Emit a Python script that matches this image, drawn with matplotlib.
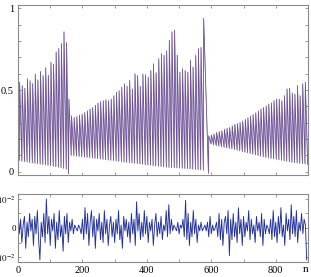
import numpy as np
import matplotlib
matplotlib.use("Agg")
from matplotlib import pyplot as plt
from matplotlib.ticker import MultipleLocator, FixedLocator

plt.rcParams['font.family'] = ['Liberation Serif', 'DejaVu Serif']
plt.rcParams['mathtext.fontset'] = 'stix'

# spike train, three segments: (first spike n, spacing), peaks, troughs before each peak
seg1_start, seg1_step = 5, 8.1
seg1_peaks = [0.548, 0.527, 0.510, 0.568, 0.556, 0.540, 0.597, 0.562, 0.613, 0.588,
              0.636, 0.590, 0.670, 0.658, 0.733, 0.753, 0.784, 0.856, 0.790]
seg1_troughs = [0.070, 0.065, 0.062, 0.060, 0.057, 0.055, 0.052, 0.050, 0.047, 0.045,
                0.042, 0.040, 0.037, 0.034, 0.031, 0.028, 0.025, 0.021, 0.017]

seg2_start, seg2_step = 158, 8.2
seg2_peaks = [0.444, 0.341, 0.331, 0.337, 0.346, 0.352, 0.362, 0.372, 0.383, 0.393,
              0.407, 0.420, 0.428, 0.434, 0.440, 0.434, 0.444, 0.465, 0.486, 0.496,
              0.517, 0.537, 0.523, 0.558, 0.506, 0.599, 0.588, 0.523, 0.597, 0.593,
              0.578, 0.619, 0.660, 0.605, 0.691, 0.722, 0.712, 0.740, 0.804,
              0.856, 0.866, 0.712, 0.609, 0.630, 0.619, 0.609, 0.681, 0.640, 0.712,
              0.753, 0.760, 0.938]
seg2_troughs = [-0.012, 0.100, 0.098, 0.096, 0.094, 0.092, 0.090, 0.088, 0.086, 0.084,
                0.082, 0.080, 0.078, 0.076, 0.074, 0.072, 0.070, 0.068, 0.066, 0.064,
                0.062, 0.060, 0.058, 0.056, 0.054, 0.052, 0.050, 0.048, 0.046, 0.044,
                0.042, 0.040, 0.038, 0.036, 0.034, 0.032, 0.030, 0.028, 0.027, 0.026,
                0.025, 0.024, 0.023, 0.022, 0.020, 0.019, 0.018, 0.016, 0.015, 0.013,
                0.012, 0.010]

seg3_start, seg3_step = 592, 8.1
seg3_peaks = [0.220, 0.225, 0.230, 0.240, 0.245, 0.250, 0.260, 0.265, 0.270, 0.280,
              0.290, 0.295, 0.300, 0.310, 0.320, 0.330, 0.340, 0.350, 0.360, 0.372,
              0.383, 0.393, 0.403, 0.414, 0.420, 0.434, 0.444, 0.444, 0.434, 0.465,
              0.506, 0.510, 0.481, 0.475, 0.527, 0.465, 0.537, 0.547]
seg3_troughs = [-0.010, 0.170, 0.165, 0.160, 0.157, 0.153, 0.150, 0.146, 0.143, 0.140,
                0.136, 0.132, 0.128, 0.124, 0.120, 0.116, 0.112, 0.108, 0.104, 0.100,
                0.096, 0.092, 0.088, 0.085, 0.082, 0.079, 0.076, 0.073, 0.070, 0.067,
                0.064, 0.061, 0.058, 0.056, 0.054, 0.052, 0.050, 0.048]
end_n, end_value = 899, 0.045

# difference between the two curves, sampled every 4 steps, in units of 1e-2
err_step = 4
err = [0.6, -0.2, 0.3, -0.5, 0.1, 0.4, -0.7, 0.2, -0.3, 0.5, -0.1, 0.3, -0.6, 0.4, -0.2,
       0.6, -0.4, -1.1, 0.2, -0.3, 0.5, -0.5, 1.0, -0.2, 0.4,
       -0.6, 0.3, -0.1, 0.5, -0.7, 0.2, -0.4, 0.6, -0.3, 0.1, -0.8, 0.4, -0.2, 0.5, -0.5,
       0.2, -0.1, 0.3, -0.2, 0.1, 0.0, -0.1, 0.1, 0.0, -0.2,
       0.3, -0.4, 0.7, -0.2, 0.5, -0.6, 0.2, 0.6, -0.3, 0.4, -0.7, 0.3, -0.1, 0.5, -0.4,
       0.2, -0.5, 0.6, -0.2, 0.3, -0.6, 0.1, 0.4, -0.3, 0.2,
       -0.5, 0.3, -0.2, 0.6, -0.4, 0.1, -0.7, 0.4, -0.1, 0.3, -0.3, 0.2, -0.5, 0.5, -0.2,
       0.3, -0.6, 0.9, -0.1, 0.5, -0.4, 0.2, -0.3, 0.6, -0.2,
       0.4, -0.5, 0.2, -0.1, 0.3, -0.6, 0.1, 0.5, -0.3, 0.2, -0.2, 0.4, -0.4, 0.1, -0.1,
       0.6, -0.3, 0.8, -0.2, 0.3, -0.1, 0.1, 0.0, -0.1, 0.2,
       -0.2, 0.1, 0.0, 0.3, -0.3, 0.95, -0.4, 0.5, -0.6, 0.2, -0.3, 0.6, -0.2, 0.3, -0.5,
       0.1, -0.1, 0.2, -0.1, 0.0, 0.1, -0.1, 0.2, -0.3, 0.4,
       -0.2, 0.1, -0.1, 0.0, 0.2, -0.3, 0.5, -0.4, 0.3, -0.6, 0.2, 0.4, -0.2, 0.6, -0.95,
       0.3, -0.4, 0.5, -0.3, 0.2, -0.5, 0.7, -0.2, 0.3, -0.6,
       0.4, -0.3, 0.2, -0.1, 0.6, -0.4, 0.3, -0.2, 0.1, -0.5, 0.4, -0.1, 0.2, -0.3, 0.5,
       -0.6, 0.3, -0.2, 0.1, 0.0, -0.2, 0.3, -0.4, 0.6, -0.3,
       0.2, -0.5, 0.4, -0.2, 0.7, -0.3, 0.1, -0.6, 0.5, -0.1, 0.3, -0.4, 0.8, -0.2, 0.4,
       -0.3, 0.6, -0.5, 0.2, -0.1, 0.5, -0.2, 0.3, 0.1, -1.1]


def sawtooth(start, step, peaks, troughs):
    xs, ys = [], []
    for k, (p, t) in enumerate(zip(peaks, troughs)):
        n = start + step * k
        xs += [n - 1, n]
        ys += [t, p]
    return xs, ys


xs, ys = [], []
for seg in [(seg1_start, seg1_step, seg1_peaks, seg1_troughs),
            (seg2_start, seg2_step, seg2_peaks, seg2_troughs),
            (seg3_start, seg3_step, seg3_peaks, seg3_troughs)]:
    a, b = sawtooth(*seg)
    xs += a
    ys += b
xs.append(end_n)
ys.append(end_value)

fig = plt.figure(figsize=(3.11, 2.77), dpi=100)
ax1 = fig.add_axes([18 / 311, 1 - 175 / 277, 290 / 311, 170 / 277])
ax2 = fig.add_axes([18 / 311, 1 - 262 / 277, 290 / 311, 68 / 277])

ax1.plot(xs, ys, color='#36388a', lw=0.55)
ax1.plot(xs, ys, color='#c070a0', lw=0.5, alpha=0.45)
ax1.set_xlim(0, 900)
ax1.set_ylim(-0.02, 1.02)
ax1.yaxis.set_major_locator(FixedLocator([0, 0.5, 1]))
ax1.set_yticklabels(['0', '0.5', '1'])
ax1.yaxis.set_minor_locator(MultipleLocator(0.1))
ax1.xaxis.set_major_locator(MultipleLocator(100))
ax1.set_xticklabels([])

en = np.arange(len(err)) * err_step
ax2.plot(en, np.array(err) * 1e-2, color='#22309a', lw=0.65)
ax2.set_xlim(0, 900)
ax2.set_ylim(-1.17e-2, 1.17e-2)
ax2.yaxis.set_major_locator(FixedLocator([-1e-2, 0, 1e-2]))
ax2.set_yticklabels([r'$-10^{-2}$', '0', r'$10^{-2}$'])
ax2.yaxis.set_minor_locator(MultipleLocator(0.5e-2))
ax2.xaxis.set_major_locator(MultipleLocator(200))
ax2.xaxis.set_minor_locator(MultipleLocator(100))

for ax in (ax1, ax2):
    for s in ax.spines.values():
        s.set_color('#8a8a8a')
        s.set_linewidth(0.8)
    ax.tick_params(which='both', direction='in', top=True, right=True,
                   length=2.5, width=0.6, color='#8a8a8a', labelsize=7.5, pad=3)
ax2.tick_params(axis='y', labelsize=6.5, pad=1.5)

fig.text(0.982, 0.012, 'n', fontsize=8, ha='center', va='bottom')

fig.savefig('out.png', dpi=100)
